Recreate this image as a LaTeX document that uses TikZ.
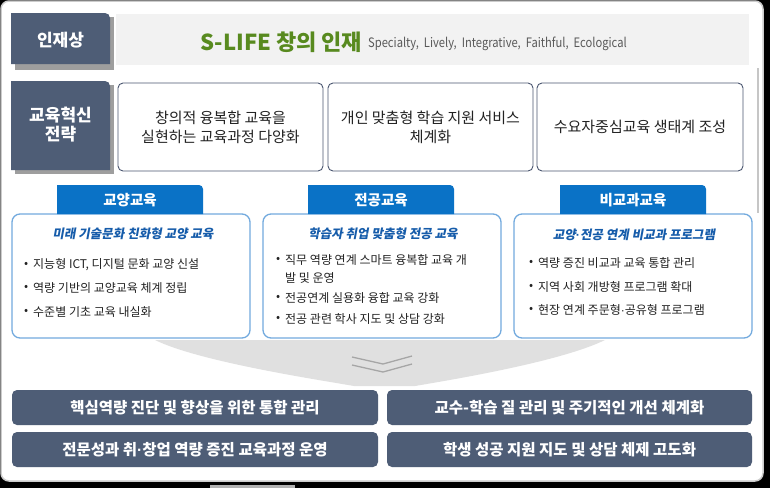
\documentclass[tikz,border=0pt]{standalone}
\usepackage{fontspec}
\usepackage{graphicx}
\setmainfont{Noto Sans CJK KR}
\newfontfamily\krsl[FakeSlant=0.18]{Noto Sans CJK KR}
\newfontfamily\latf{Liberation Sans}
\newcommand{\mdot}{{\latf\char"00B7}}
\definecolor{slate}{RGB}{78,93,118}
\definecolor{slateline}{RGB}{74,86,112}
\definecolor{bandgray}{RGB}{242,242,242}
\definecolor{lifegreen}{RGB}{88,138,31}
\definecolor{subgray}{RGB}{89,89,89}
\definecolor{tabblue}{RGB}{10,114,198}
\definecolor{titleblue}{RGB}{22,92,170}
\definecolor{lightblue}{RGB}{115,170,222}
\definecolor{textdark}{RGB}{34,34,34}
\tikzset{
  headtxt/.style={text=white,font=\bfseries\fontsize{17}{21}\selectfont,align=center,inner sep=0pt},
  stratbox/.style={draw=slateline,line width=0.9pt,fill=white,rounded corners=5pt,minimum height=88pt,align=center,text=textdark,font=\fontsize{15}{19}\selectfont,inner sep=0pt},
  tabtxt/.style={text=white,font=\bfseries\fontsize{14.5}{17}\selectfont,inner sep=0pt},
  edubox/.style={draw=lightblue,line width=1.3pt,fill=white,rounded corners=8pt,minimum width=238pt,minimum height=124pt,inner sep=0pt},
  boxtitle/.style={text=titleblue,font=\krsl\bfseries\fontsize{12.5}{15}\selectfont,inner sep=0pt},
  bul/.style={anchor=west,text=textdark,font=\fontsize{12}{15}\selectfont,inner sep=0pt},
  btxt/.style={anchor=west,text=textdark,font=\fontsize{12}{15}\selectfont,inner sep=0pt},
  slatebox/.style={fill=slate,text=white,rounded corners=5pt,minimum height=35pt,inner sep=0pt,font=\bfseries\fontsize{15.5}{18}\selectfont},
  shadowfill/.style={fill=black!38}
}
\begin{document}
\begin{tikzpicture}[x=1pt,y=-1pt]
\useasboundingbox (0,0) rectangle (770,488);
\fill[black] (0,0) rectangle (770,488);
\draw[draw=gray!40,fill=white,line width=1.5pt,rounded corners=8pt] (1,1) rectangle (763,481);
% scroll artifacts
\draw[gray!45,line width=2pt] (758,68) -- (758,213);
\fill[gray!60] (210,485) rectangle (295,488);

% row 1
\fill[shadowfill] (15,17) rectangle (114,70);
\fill[slate] (11,64) -- (11,13) [rounded corners=5pt] -- (110,13) [sharp corners] -- (110,64) -- cycle;
\node[headtxt] (ideal) at (60.5,40) {인재상};
\fill[bandgray] (116,14) rectangle (749,65);
\node[text=lifegreen,font=\bfseries\fontsize{22}{26}\selectfont,inner sep=0pt,anchor=west] (slife) at (200,42) {S-LIFE 창의 인재};
\node[text=subgray,font=\fontsize{13}{15}\selectfont,inner sep=0pt,anchor=west] (slifesub) at (368,44) {\scalebox{0.86}[1]{Specialty,\ \ Lively,\ \ Integrative,\ \ Faithful,\ \ Ecological}};

% row 2
\fill[shadowfill] (15,85) rectangle (114,174);
\fill[slate] (11,170) -- (11,81) [rounded corners=5pt] -- (110,81) [sharp corners] -- (110,170) -- cycle;
\node[headtxt] (strat) at (60.5,125) {교육혁신\\[-2pt]전략};
\node[stratbox,minimum width=205pt] (s1) at (220.5,127) {창의적 융복합 교육을\\실현하는 교육과정 다양화};
\node[stratbox,minimum width=205pt] (s2) at (430.5,127) {개인 맞춤형 학습 지원 서비스\\체계화};
\node[stratbox,minimum width=206pt] (s3) at (640,127) {수요자중심교육 생태계 조성};

% row 3 boxes
\node[edubox] (e1) at (131,276) {};
\node[edubox] (e2) at (382,276) {};
\node[edubox] (e3) at (633,276) {};
\fill[tabblue] (57,214) -- (57,185) [rounded corners=4pt] -- (203,185) [sharp corners] -- (203,214) -- cycle;
\fill[tabblue] (308,214) -- (308,185) [rounded corners=4pt] -- (454,185) [sharp corners] -- (454,214) -- cycle;
\fill[tabblue] (560,214) -- (560,185) [rounded corners=4pt] -- (706,185) [sharp corners] -- (706,214) -- cycle;
\node[tabtxt] (t1) at (130,200) {교양교육};
\node[tabtxt] (t2) at (381,200) {전공교육};
\node[tabtxt] (t3) at (633,200) {비교과교육};

\node[boxtitle] (h1) at (133,234) {미래 기술문화 친화형 교양 교육};
\node[boxtitle] (h2) at (383,234) {학습자 취업 맞춤형 전공 교육};
\node[boxtitle] (h3) at (634,235) {교양\mdot 전공 연계 비교과 프로그램};

\node[bul] (p11) at (24,265) {•};
\node[btxt] (q11) at (33,265) {지능형 ICT, 디지털 문화 교양 신설};
\node[bul] (p12) at (24,288) {•};
\node[btxt] (q12) at (33,288) {역량 기반의 교양교육 체계 정립};
\node[bul] (p13) at (24,312) {•};
\node[btxt] (q13) at (33,312) {수준별 기초 교육 내실화};

\node[bul] (p21) at (276,260) {•};
\node[btxt] (q21) at (285,260) {직무 역량 연계 스마트 융복합 교육 개};
\node[btxt] (q21b) at (285,278) {발 및 운영};
\node[bul] (p22) at (276,298) {•};
\node[btxt] (q22) at (285,298) {전공연계 실용화 융합 교육 강화};
\node[bul] (p23) at (276,319) {•};
\node[btxt] (q23) at (285,319) {전공 관련 학사 지도 및 상담 강화};

\node[bul] (p31) at (529,263) {•};
\node[btxt] (q31) at (538,263) {역량 증진 비교과 교육 통합 관리};
\node[bul] (p32) at (529,287) {•};
\node[btxt] (q32) at (538,287) {지역 사회 개방형 프로그램 확대};
\node[bul] (p33) at (529,310) {•};
\node[btxt] (q33) at (538,310) {현장 연계 주문형\mdot 공유형 프로그램};

% funnel
\fill[gray!24] (155,340) -- (605,340) .. controls (560,362) and (450,380) .. (415,386) -- (354,386) .. controls (320,380) and (200,362) .. (155,340) -- cycle;
\draw[gray!70,line width=1.3pt] (352,357) -- (383,364) -- (412,356);
\draw[gray!70,line width=1.3pt] (352,365) -- (383,372) -- (412,364);

% bottom boxes
\node[slatebox,minimum width=366pt] (k1) at (195,407.5) {핵심역량 진단 및 향상을 위한 통합 관리};
\node[slatebox,minimum width=365pt] (k2) at (569.5,407.5) {교수-학습 질 관리 및 주기적인 개선 체계화};
\node[slatebox,minimum width=366pt] (k3) at (195,449.5) {전문성과 취\mdot 창업 역량 증진 교육과정 운영};
\node[slatebox,minimum width=365pt] (k4) at (569.5,449.5) {학생 성공 지원 지도 및 상담 체제 고도화};
\end{tikzpicture}
\end{document}
